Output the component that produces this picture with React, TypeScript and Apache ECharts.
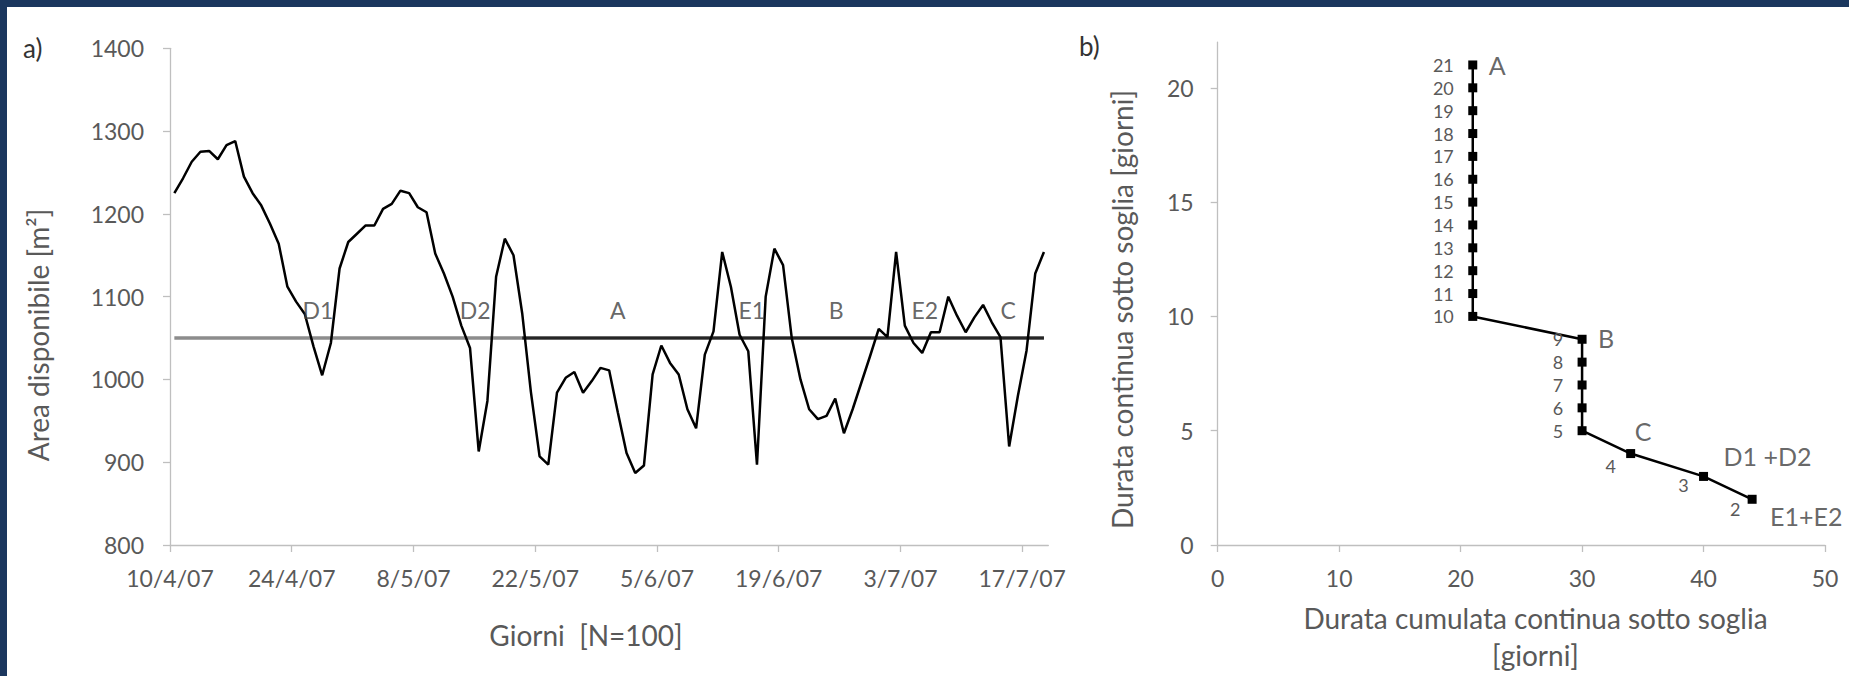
import React, { useEffect, useRef } from "react";
import * as echarts from "echarts";

// ---- Chart a) data: Area disponibile [m²], one value per day from 10/4/07 ----
const areaDisponibile = [
  1225, 1243, 1263, 1275, 1276, 1266, 1283, 1288, 1245, 1225,
  1210, 1188, 1164, 1112, 1094, 1079, 1040, 1005, 1044, 1134,
  1166, 1176, 1186, 1186, 1206, 1212, 1228, 1225, 1208, 1202,
  1152, 1128, 1100, 1065, 1038, 913, 974, 1124, 1170, 1150,
  1080, 985, 907, 897, 984, 1002, 1009, 984, 998, 1014,
  1011, 960, 911, 887, 896, 1006, 1041, 1020, 1006, 964,
  941, 1030, 1058, 1154, 1112, 1054, 1034, 897, 1100, 1158,
  1138, 1050, 1000, 964, 952, 956, 977, 935, 964, 996,
  1028, 1061, 1051, 1154, 1065, 1044, 1032, 1057, 1057, 1100,
  1077, 1057, 1075, 1090, 1069, 1051, 919, 980, 1035, 1128,
  1154,
];
const soglia = 1050;
const sogliaDarkStart = 40;
const dateTickDays = [0, 14, 28, 42, 56, 70, 84, 98];
const dateTickLabels = ["10/4/07", "24/4/07", "8/5/07", "22/5/07", "5/6/07", "19/6/07", "3/7/07", "17/7/07"];
const eventiA = ["D1", "D2", "A", "E1", "B", "E2", "C"];
const eventiAGiorno = [17.0, 35.1, 51.5, 66.9, 76.6, 86.8, 96.4];
const eventiALivello = 1084;

// ---- Chart b) data ----
const durataContinua = [21, 20, 19, 18, 17, 16, 15, 14, 13, 12, 11, 10, 9, 8, 7, 6, 5, 4, 3, 2];
const durataCumulata = [21, 21, 21, 21, 21, 21, 21, 21, 21, 21, 21, 21, 30, 30, 30, 30, 30, 34, 40, 44];
const eventiB = ["A", "B", "C", "D1 +D2", "E1+E2"];
const eventiBDurata = [21, 9, 4, 3, 2];
const yTicksB = [0, 5, 10, 15, 20];

const FONT = "Lato, 'Open Sans', sans-serif";
const AXIS_GREY = "#bfbfbf";
const LABEL_GREY = "#595959";
const NAVY = "#1b375e";
const TICK_FS = 23;
const TITLE_FS = 28;

const numOffsets: Record<number, number[]> = { 4: [-20, 12], 3: [-20, 9], 2: [-17, 10] };
const letterOffsets: Record<string, number[]> = {
  A: [16, 0],
  B: [16, -1],
  C: [4, -23],
  "D1 +D2": [20, -20],
  "E1+E2": [18, 17],
};

function axisBase(margin: number) {
  return {
    axisLine: { show: true, onZero: false, lineStyle: { color: AXIS_GREY, width: 1.3 } },
    axisTick: { show: true, length: 7, lineStyle: { color: AXIS_GREY, width: 1.3 } },
    splitLine: { show: false },
    axisLabel: {
      color: LABEL_GREY,
      fontSize: TICK_FS,
      fontFamily: FONT,
      margin,
      formatter: (v: number) => String(v),
    },
  };
}

function buildOption() {
  const dayPos = areaDisponibile.map((_, k) => k + 0.5);
  const base0 = axisBase(21);
  const baseY0 = axisBase(26);
  const base1 = axisBase(21);
  const baseY1 = axisBase(24);

  const bLineData = durataContinua.map((d, i) => {
    const off = numOffsets[d];
    return {
      value: [durataCumulata[i], d],
      label: off
        ? { show: true, position: "inside", offset: off, align: "center", verticalAlign: "middle", fontSize: 18, color: LABEL_GREY, fontFamily: FONT, formatter: String(d) }
        : { show: true, position: "inside", offset: [-19, 0], align: "right", verticalAlign: "middle", fontSize: 18, color: LABEL_GREY, fontFamily: FONT, formatter: String(d) },
    };
  });

  const bLetters = eventiB.map((name, i) => {
    const idx = durataContinua.indexOf(eventiBDurata[i]);
    return {
      name,
      value: [durataCumulata[idx], durataContinua[idx]],
      label: { offset: letterOffsets[name] },
    };
  });

  const textStyle = (size: number, color: string) => ({ fontSize: size, fontFamily: FONT, fill: color });

  return {
    animation: false,
    backgroundColor: "#ffffff",
    textStyle: { fontFamily: FONT },
    grid: [
      { left: 170, top: 48.3, width: 878.3, height: 496.7 },
      { left: 1217.7, top: 42.1, width: 607.3, height: 502.9 },
    ],
    xAxis: [
      {
        type: "value",
        gridIndex: 0,
        min: 0,
        max: 101,
        ...base0,
        axisTick: { ...base0.axisTick, customValues: dateTickDays },
        axisLabel: {
          ...base0.axisLabel,
          customValues: dateTickDays,
          formatter: (v: number) => {
            const i = dateTickDays.indexOf(Math.round(v));
            return i >= 0 ? dateTickLabels[i] : "";
          },
        },
      },
      {
        type: "value",
        gridIndex: 1,
        min: 0,
        max: 50,
        interval: 10,
        ...base1,
      },
    ],
    yAxis: [
      {
        type: "value",
        gridIndex: 0,
        min: 800,
        max: 1400,
        interval: 100,
        ...baseY0,
      },
      {
        type: "value",
        gridIndex: 1,
        min: 0,
        max: 22,
        ...baseY1,
        axisTick: { ...baseY1.axisTick, customValues: yTicksB },
        axisLabel: { ...baseY1.axisLabel, customValues: yTicksB },
      },
    ],
    series: [
      {
        type: "line",
        name: "soglia",
        xAxisIndex: 0,
        yAxisIndex: 0,
        data: dayPos.map((d) => [d, soglia]),
        showSymbol: false,
        symbol: "none",
        lineStyle: { color: "#8c8c8c", width: 3.5 },
        z: 2,
        silent: true,
      },
      {
        type: "line",
        name: "soglia2",
        xAxisIndex: 0,
        yAxisIndex: 0,
        data: dayPos.slice(sogliaDarkStart).map((d) => [d, soglia]),
        showSymbol: false,
        symbol: "none",
        lineStyle: { color: "#262626", width: 3 },
        z: 3,
        silent: true,
      },
      {
        type: "line",
        name: "Area disponibile",
        xAxisIndex: 0,
        yAxisIndex: 0,
        data: dayPos.map((d, k) => [d, areaDisponibile[k]]),
        showSymbol: false,
        symbol: "none",
        lineStyle: { color: "#000000", width: 2.5 },
        z: 4,
        silent: true,
      },
      {
        type: "scatter",
        name: "eventi a",
        xAxisIndex: 0,
        yAxisIndex: 0,
        symbolSize: 2,
        itemStyle: { color: "rgba(0,0,0,0)" },
        data: eventiA.map((n, i) => ({ name: n, value: [eventiAGiorno[i], eventiALivello] })),
        label: {
          show: true,
          position: "inside",
          formatter: "{b}",
          fontSize: 23,
          color: "#404040",
          fontFamily: FONT,
          align: "center",
          verticalAlign: "middle",
        },
        z: 5,
        silent: true,
      },
      {
        type: "line",
        name: "Durata",
        xAxisIndex: 1,
        yAxisIndex: 1,
        data: bLineData,
        symbol: "rect",
        symbolSize: 9,
        showSymbol: true,
        itemStyle: { color: "#000000" },
        lineStyle: { color: "#000000", width: 2.5 },
        z: 4,
        silent: true,
      },
      {
        type: "scatter",
        name: "eventi b",
        xAxisIndex: 1,
        yAxisIndex: 1,
        symbolSize: 2,
        itemStyle: { color: "rgba(0,0,0,0)" },
        data: bLetters,
        label: {
          show: true,
          position: "inside",
          formatter: "{b}",
          fontSize: 25,
          color: "#404040",
          fontFamily: FONT,
          align: "left",
          verticalAlign: "middle",
        },
        z: 5,
        silent: true,
      },
    ],
    graphic: [
      { type: "rect", shape: { x: 0, y: 0, width: 1849, height: 7 }, style: { fill: NAVY }, silent: true },
      { type: "rect", shape: { x: 0, y: 0, width: 7, height: 676 }, style: { fill: NAVY }, silent: true },
      { type: "text", x: 23, y: 48, style: { text: "a)", ...textStyle(26, "#333333"), align: "left", verticalAlign: "middle" } },
      { type: "text", x: 1079, y: 46, style: { text: "b)", ...textStyle(26, "#333333"), align: "left", verticalAlign: "middle" } },
      {
        type: "text",
        x: 38,
        y: 335,
        rotation: Math.PI / 2,
        style: { text: "Area disponibile [m²]", ...textStyle(TITLE_FS, LABEL_GREY), align: "center", verticalAlign: "middle" },
      },
      {
        type: "text",
        x: 586,
        y: 635,
        style: { text: "Giorni  [N=100]", ...textStyle(TITLE_FS, LABEL_GREY), align: "center", verticalAlign: "middle" },
      },
      {
        type: "text",
        x: 1121.7,
        y: 309.5,
        rotation: Math.PI / 2,
        style: { text: "Durata continua sotto soglia [giorni]", ...textStyle(TITLE_FS, LABEL_GREY), align: "center", verticalAlign: "middle" },
      },
      {
        type: "text",
        x: 1535.5,
        y: 618,
        style: { text: "Durata cumulata continua sotto soglia", ...textStyle(TITLE_FS, LABEL_GREY), align: "center", verticalAlign: "middle" },
      },
      {
        type: "text",
        x: 1535.5,
        y: 655,
        style: { text: "[giorni]", ...textStyle(TITLE_FS, LABEL_GREY), align: "center", verticalAlign: "middle" },
      },
    ],
  };
}

export default function App() {
  const ref = useRef<HTMLDivElement>(null);
  useEffect(() => {
    if (!ref.current) return;
    const chart = echarts.init(ref.current, null, { renderer: "svg" });
    chart.setOption(buildOption() as any);
    return () => chart.dispose();
  }, []);
  return (
    <div
      ref={ref}
      style={{ position: "fixed", left: 0, top: 0, width: 1849, height: 676, background: "#ffffff" }}
    />
  );
}
